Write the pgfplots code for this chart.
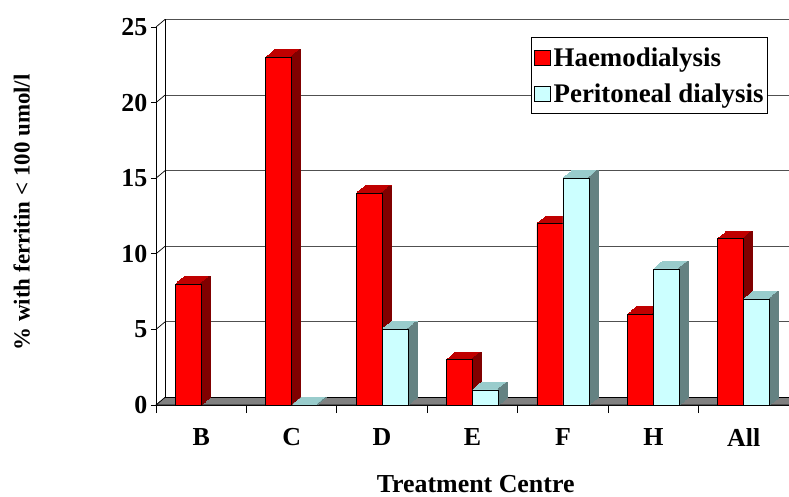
\documentclass[border=0pt]{standalone}
\usepackage{pgfplots}
\pgfplotsset{compat=1.18}
\usepackage{pgfplotstable}
\usepackage{fontspec}
\setmainfont{Liberation Serif}
\definecolor{hdfront}{HTML}{FF0000}
\definecolor{hdtop}{HTML}{C00000}
\definecolor{hdside}{HTML}{800000}
\definecolor{pdfront}{HTML}{CCFFFF}
\definecolor{pdtop}{HTML}{99CCCC}
\definecolor{pdside}{HTML}{648282}
\definecolor{floorgray}{HTML}{808080}
\definecolor{gridc}{HTML}{505050}

\pgfplotstableread{
x hd pd
0 8 nan
1 23 0
2 14 5
3 3 1
4 12 15
5 6 9
6 11 7
}\datatable

\begin{document}
\begin{tikzpicture}[x=1bp,y=1bp]
\begin{axis}[
  at={(0,0)}, anchor=south west,
  scale only axis, width=633bp, height=378bp,
  xmin=-0.5, xmax=6.5, ymin=0, ymax=25,
  clip=false,
  axis x line*=bottom, axis y line*=left,
  axis line style={black, line width=0.8bp, -},
  xtick={-0.5,0.5,...,6.5},
  x tick label as interval,
  xticklabels={B,C,D,E,F,H,All},
  ytick={0,5,...,25},
  tick align=outside,
  tick style={black, line width=0.8bp},
  xtick style={/pgfplots/major tick length=8bp},
  ytick style={/pgfplots/major tick length=5bp},
  /pgf/number format/assume math mode=true,
  tick label style={font=\fontsize{26}{30}\selectfont\bfseries},
  xticklabel style={yshift=-16bp},
  yticklabel style={xshift=-1bp},
  xlabel={Treatment Centre},
  xlabel style={font=\fontsize{26}{30}\selectfont\bfseries, at={(axis description cs:0.505,-0.21)}, anchor=center},
  ylabel={\% with ferritin < 100 umol/l},
  ylabel style={font=\fontsize{23}{27}\selectfont\bfseries, at={(axis description cs:-0.212,0.51)}, anchor=center},
  legend style={at={(axis description cs:0.9668,0.9735)}, anchor=north east,
    draw=black, line width=0.8bp, fill=white,
    font=\fontsize{27}{31}\selectfont\bfseries,
    inner xsep=2bp, inner ysep=8bp, row sep=12bp},
  legend cell align=left,
]
% back wall grid lines and side wall edges
\pgfplotsinvokeforeach{5,10,15,20,25}{
  \draw[gridc, line width=0.8bp] ([shift={(9bp,7.5bp)}]axis cs:-0.5,#1) -- ([shift={(9bp,7.5bp)}]axis cs:6.6,#1);
}
\pgfplotsinvokeforeach{0,5,10,15,20,25}{
  \draw[black, line width=0.7bp] (axis cs:-0.5,#1) -- ([shift={(9bp,7.5bp)}]axis cs:-0.5,#1);
}
\draw[black, line width=0.7bp] ([shift={(9bp,7.5bp)}]axis cs:-0.5,0) -- ([shift={(9bp,7.5bp)}]axis cs:-0.5,25);
% floor
\draw[fill=floorgray, draw=black, line width=0.7bp] (axis cs:-0.5,0) -- (axis cs:6.6,0) -- ([shift={(9bp,7.5bp)}]axis cs:6.6,0) -- ([shift={(9bp,7.5bp)}]axis cs:-0.5,0) -- cycle;

% Haemodialysis: top/side depth, then front
\pgfplotsinvokeforeach{1,...,10}{
  \addplot[ybar, bar width=26bp, bar shift=-13bp, fill=hdtop, draw=hdtop, line width=0.9bp, forget plot,
    xshift=#1*0.9bp, yshift=#1*0.75bp] table[x=x, y=hd] {\datatable};
}
\pgfplotsinvokeforeach{1,...,10}{
  \addplot[ybar, bar width=1.5bp, bar shift=-0.75bp, fill=hdside, draw=hdside, line width=0.6bp, forget plot,
    xshift=#1*0.9bp, yshift=#1*0.75bp] table[x=x, y=hd] {\datatable};
}
\addplot[ybar, bar width=26bp, bar shift=-13bp, fill=hdfront, draw=black, line width=0.7bp, forget plot]
  table[x=x, y=hd] {\datatable};

% Peritoneal dialysis
\pgfplotsinvokeforeach{1,...,10}{
  \addplot[ybar, bar width=26bp, bar shift=13bp, fill=pdtop, draw=pdtop, line width=0.9bp, forget plot,
    xshift=#1*0.9bp, yshift=#1*0.75bp] table[x=x, y=pd] {\datatable};
}
\pgfplotsinvokeforeach{1,...,10}{
  \addplot[ybar, bar width=1.5bp, bar shift=25.25bp, fill=pdside, draw=pdside, line width=0.6bp, forget plot,
    xshift=#1*0.9bp, yshift=#1*0.75bp] table[x=x, y=pd] {\datatable};
}
\addplot[ybar, bar width=26bp, bar shift=13bp, fill=pdfront, draw=black, line width=0.7bp, forget plot]
  table[x=x, y=pd] {\datatable};

\addlegendimage{legend image code/.code={\draw[fill=hdfront, draw=black, line width=0.7bp] (2bp,-7.5bp) rectangle (18bp,7.5bp); \path (19bp,0bp);}}
\addlegendentry{Haemodialysis}
\addlegendimage{legend image code/.code={\draw[fill=pdfront, draw=black, line width=0.7bp] (2bp,-7.5bp) rectangle (18bp,7.5bp); \path (19bp,0bp);}}
\addlegendentry{Peritoneal dialysis}
\end{axis}
\pgfresetboundingbox
\path (-156bp,-92bp) rectangle (633bp,405bp);
\end{tikzpicture}
\end{document}
